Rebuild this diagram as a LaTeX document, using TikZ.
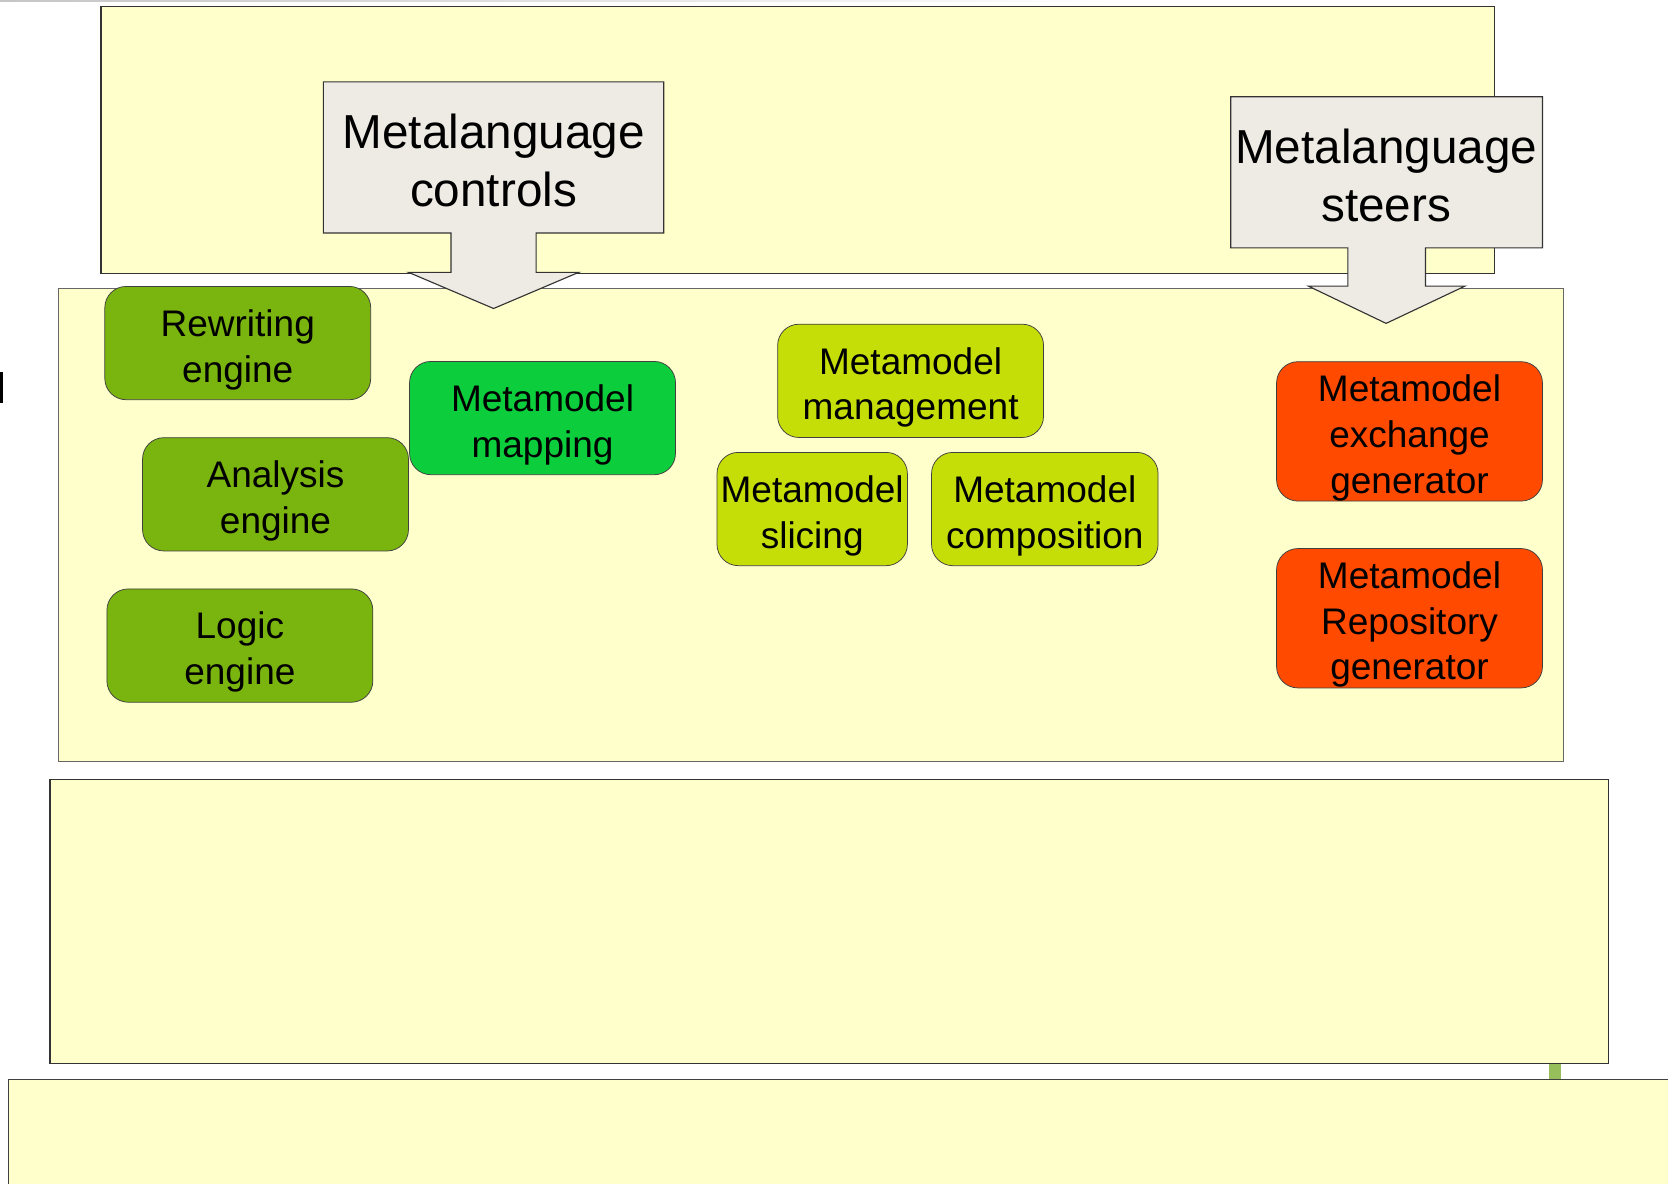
\documentclass[tikz,border=0pt]{standalone}
\usepackage{fontspec}
\setmainfont{Liberation Sans}
\usetikzlibrary{positioning}
\definecolor{layeryellow}{RGB}{255,255,204}
\definecolor{calloutgray}{RGB}{238,234,228}
\definecolor{enginegreen}{RGB}{122,180,14}
\definecolor{mappinggreen}{RGB}{12,206,60}
\definecolor{modellime}{RGB}{197,222,8}
\definecolor{genorange}{RGB}{255,74,0}
\definecolor{barolive}{RGB}{150,190,90}

\begin{document}
\begin{tikzpicture}[x=0.02cm, y=-0.02cm]
	\tikzset{
	layer/.style={draw=black!80, fill=layeryellow, line width=0.6pt}, % the big background bands
	block/.style={draw=black!75, rounded corners=0.4cm, align=center, inner sep=0pt, minimum width=5cm, minimum height=2.13cm, text height=1.47cm, text depth=0cm, font=\fontsize{19.8pt}{24.5pt}\selectfont}, % rounded component boxes, text sits a bit low
	tall/.style={minimum height=2.62cm, text height=2.32cm}, % three lines of text
	callout/.style={draw=black!80, fill=calloutgray, line width=0.6pt}, % box with arrow pointing down
	callout text/.style={align=center, font=\fontsize{25.5pt}{30.7pt}\selectfont}
	}
	\clip (0,0) rectangle (1568,1113);
	
	% thin rule and cut-off mark on the left
	\shade[left color=gray!45, right color=white] (0,0) rectangle (1050,1.2);
	\fill[black] (0,350) rectangle (2.8,379);
	
	% background bands
	\fill[barolive] (1456,995) rectangle (1467,1020);
	\draw[layer] (95,6) rectangle (1405,257);
	\draw[layer, draw=black!60] (55,271) rectangle (1470,716);
	\draw[layer] (47,733) rectangle (1512,1000);
	\draw[layer, draw=black!75] (8,1015) rectangle (1600,1150);
	
	% engines
	\node[block, fill=enginegreen] (rewrite) at (223.5,322.5) {Rewriting\\engine};
	\node[block, fill=enginegreen, below=0.7cm of rewrite, xshift=0.71cm] (analysis) {Analysis\\engine};
	\node[block, fill=enginegreen, below=0.7cm of analysis, xshift=-0.67cm] (logic) {Logic\\engine};
	\node[block, fill=mappinggreen] (mapping) at (510,393) {Metamodel\\mapping};
	
	% metamodel operations
	\node[block, fill=modellime] (management) at (856,358) {Metamodel\\management};
	\node[block, fill=modellime, minimum width=3.58cm] (slicing) at (763.5,478.5) {Metamodel\\slicing};
	\node[block, fill=modellime, minimum width=4.26cm, right=0.44cm of slicing] (composition) {Metamodel\\composition};
	
	% generators
	\node[block, tall, fill=genorange] (exchange) at (1325,405.5) {Metamodel\\exchange\\generator};
	\node[block, tall, fill=genorange, below=0.88cm of exchange] (repository) {Metamodel\\Repository\\generator};
	
	% callouts
	\draw[callout] (304,77) -- (624,77) -- (624,219) -- (504,219) -- (504,256) -- (544,256) -- (464,290) -- (384,256) -- (424,256) -- (424,219) -- (304,219) -- cycle;
	\node[callout text] (controls) at (464,151) {Metalanguage\\controls};
	\draw[callout] (1157,91) -- (1450,91) -- (1450,233) -- (1340,233) -- (1340,269) -- (1377,269) -- (1303,304) -- (1230,269) -- (1267,269) -- (1267,233) -- (1157,233) -- cycle;
	\node[callout text] (steers) at (1303,165) {Metalanguage\\steers};
\end{tikzpicture}
\end{document}
